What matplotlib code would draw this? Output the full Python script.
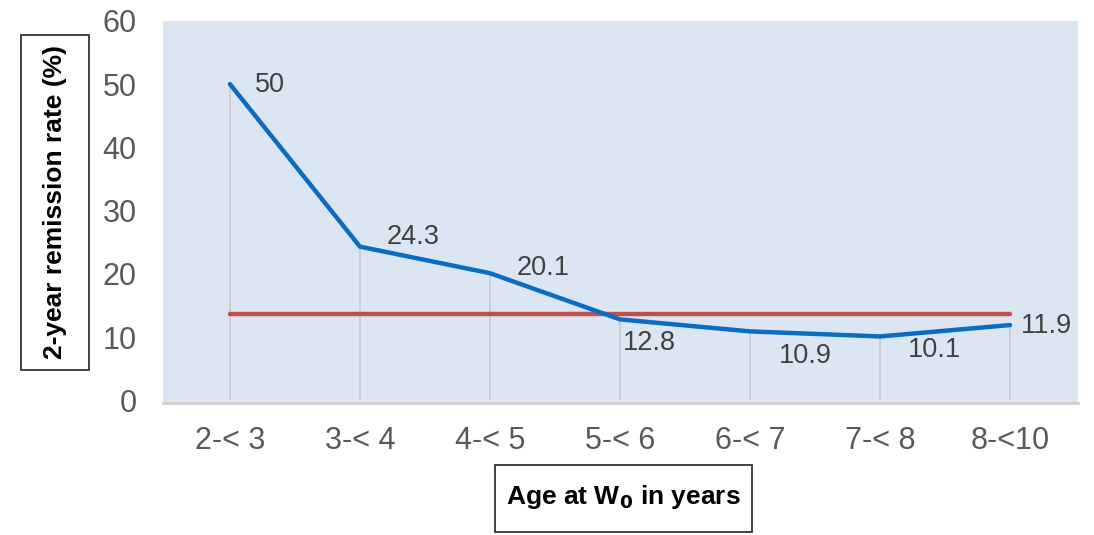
import matplotlib
matplotlib.use("Agg")
import matplotlib.pyplot as plt
from matplotlib.patches import Rectangle

categories = ["2-< 3", "3-< 4", "4-< 5", "5-< 6", "6-< 7", "7-< 8", "8-<10"]
remission = [50, 24.3, 20.1, 12.8, 10.9, 10.1, 11.9]
reference_level = [13.7] * 7
yticks = [0, 10, 20, 30, 40, 50, 60]

plt.rcParams['font.family'] = ['Liberation Sans', 'DejaVu Sans']

fig = plt.figure(figsize=(10.94, 5.35), dpi=100)
ax = fig.add_axes([0.149, 0.247, 0.836, 0.714])
ax.set_facecolor('#dce6f2')

x = list(range(len(categories)))
for xi, v in zip(x, remission):
    ax.vlines(xi, 0, v, color='#c9c9c9', lw=1.2, zorder=1)

ax.plot(x, reference_level, color='#c0504d', lw=3.2, solid_capstyle='round', zorder=2)
ax.plot(x, remission, color='#0a6cc4', lw=3.2, solid_capstyle='round', solid_joinstyle='round', zorder=3)

offsets = [(18, -1), (19, 7), (19, 3.6), (2, -17), (21, -18), (20, -10), (8, -1)]
for xi, v, (dx, dy) in zip(x, remission, offsets):
    ax.annotate(f"{v:g}", (xi, v), xytext=(dx, dy),
                textcoords='offset points', ha='left', va='center', fontsize=19.5,
                color='#404040', zorder=4)

ax.set_xlim(-0.515, 6.52)
ax.set_ylim(-0.4, 59.9)
ax.set_xticks(x)
ax.set_xticklabels(categories, fontsize=22, color='#595959')
ax.set_yticks(yticks)
ax.set_yticklabels([str(t) for t in yticks], fontsize=22, color='#595959')
ax.tick_params(length=0)
ax.tick_params(axis='x', pad=17)
ax.tick_params(axis='y', pad=19)
for s in ['top', 'right', 'left']:
    ax.spines[s].set_visible(False)
ax.spines['bottom'].set_color('#cfcfcf')
ax.spines['bottom'].set_linewidth(2)

# boxed y label
fig.patches.append(Rectangle((0.0192, 0.3084), 0.0622, 0.6262, transform=fig.transFigure,
                             fc='white', ec='#333333', lw=1.3, zorder=0))
fig.text(0.0505, 0.6215, "2-year remission rate (%)", rotation=90, ha='center', va='center',
         fontsize=19, fontweight='bold', color='#000000')

# boxed x label
fig.patches.append(Rectangle((0.4525, 0.005), 0.2349, 0.1258, transform=fig.transFigure,
                             fc='white', ec='#333333', lw=1.3, zorder=0))
fig.text(0.570, 0.071, "Age at W$_\\mathbf{0}$ in years", ha='center', va='center',
         fontsize=19, fontweight='bold', color='#000000')

fig.savefig("out.png", dpi=100)
